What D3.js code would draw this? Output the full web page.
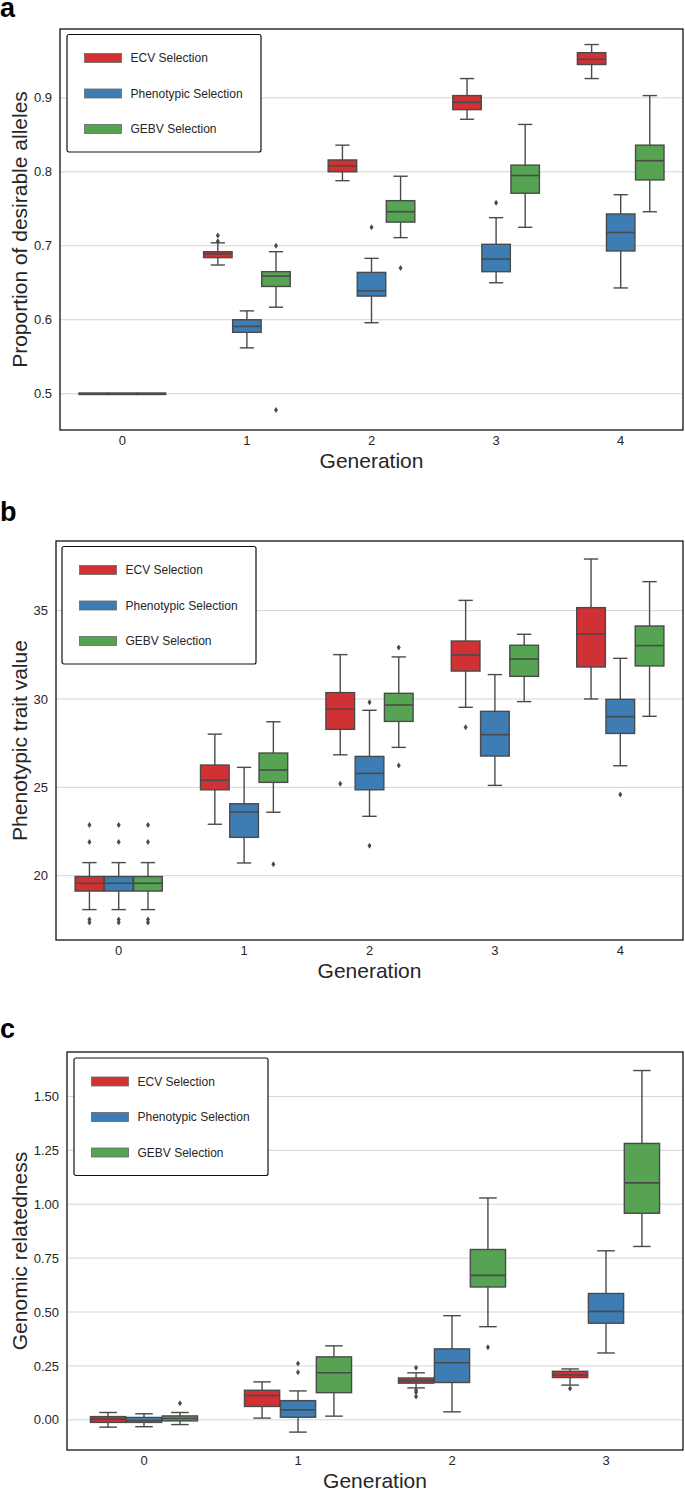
<!DOCTYPE html>
<html>
<head>
<meta charset="utf-8">
<script src="https://cdn.jsdelivr.net/npm/d3@7"></script>
<style>
  body { margin: 0; background: #fff; }
  svg { display: block; font-family: "Liberation Sans", Arial, sans-serif; }
</style>
</head>
<body>
<script>
// hue order and colours (seaborn Set1, desaturated)
const hues = ['ECV Selection', 'Phenotypic Selection', 'GEBV Selection'];
const hueColors = ['#d03134', '#3e7db3', '#55a353'];

// each box is [lower whisker, q1, median, q3, upper whisker]
// a: proportion of desirable alleles
const allelesGen = ['0', '1', '2', '3', '4'];
const allelesEcv = [[0.5, 0.499, 0.5, 0.501, 0.5], [0.674, 0.684, 0.689, 0.692, 0.704], [0.788, 0.800, 0.808, 0.816, 0.836], [0.871, 0.884, 0.894, 0.903, 0.926], [0.926, 0.945, 0.952, 0.961, 0.972]];
const allelesPheno = [[0.5, 0.499, 0.5, 0.501, 0.5], [0.562, 0.583, 0.591, 0.600, 0.612], [0.596, 0.632, 0.639, 0.664, 0.683], [0.650, 0.665, 0.682, 0.702, 0.738], [0.643, 0.693, 0.718, 0.743, 0.769]];
const allelesGebv = [[0.5, 0.499, 0.5, 0.501, 0.5], [0.617, 0.645, 0.659, 0.665, 0.692], [0.711, 0.732, 0.746, 0.761, 0.794], [0.725, 0.771, 0.795, 0.809, 0.864], [0.746, 0.789, 0.815, 0.836, 0.903]];
const allelesEcvOut = [[], [0.706, 0.714], [], [], []];
const allelesPhenoOut = [[], [], [0.725], [0.758], []];
const allelesGebvOut = [[], [0.700, 0.478], [0.670], [], []];
const allelesTicks = [0.5, 0.6, 0.7, 0.8, 0.9];

// b: phenotypic trait value
const traitGen = ['0', '1', '2', '3', '4'];
const traitEcv = [[18.08, 19.13, 19.57, 19.95, 20.74], [22.91, 24.86, 25.40, 26.26, 28.01], [26.84, 28.28, 29.42, 30.36, 32.51], [29.53, 31.58, 32.49, 33.28, 35.58], [30.00, 31.81, 33.68, 35.17, 37.92]];
const traitPheno = [[18.08, 19.13, 19.57, 19.95, 20.74], [20.72, 22.17, 23.60, 24.07, 26.13], [23.36, 24.86, 25.79, 26.75, 29.36], [25.11, 26.77, 27.98, 29.30, 31.38], [26.22, 28.05, 29.00, 29.98, 32.30]];
const traitGebv = [[18.08, 19.13, 19.57, 19.95, 20.74], [23.59, 25.28, 25.98, 26.94, 28.71], [27.26, 28.73, 29.66, 30.32, 32.38], [29.85, 31.28, 32.26, 33.04, 33.66], [29.02, 31.87, 33.02, 34.13, 36.64]];
const traitEcvOut = [[22.87, 21.90, 17.52, 17.35], [], [25.20], [28.40], []];
const traitPhenoOut = [[22.87, 21.90, 17.52, 17.35], [], [29.81, 21.70], [], [24.60]];
const traitGebvOut = [[22.87, 21.90, 17.52, 17.35], [20.64], [32.92, 26.24], [], []];
const traitTicks = [20, 25, 30, 35];

// c: genomic relatedness
const relGen = ['0', '1', '2', '3'];
const relEcv = [[-0.034, -0.012, 0.003, 0.015, 0.034], [0.008, 0.062, 0.113, 0.137, 0.176], [0.148, 0.170, 0.182, 0.194, 0.218], [0.161, 0.196, 0.208, 0.225, 0.236]];
const relPheno = [[-0.032, -0.012, -0.003, 0.011, 0.028], [-0.057, 0.012, 0.046, 0.089, 0.134], [0.037, 0.173, 0.265, 0.329, 0.483], [0.310, 0.448, 0.503, 0.586, 0.784]];
const relGebv = [[-0.022, -0.005, 0.006, 0.018, 0.034], [0.017, 0.126, 0.218, 0.292, 0.343], [0.432, 0.616, 0.670, 0.790, 1.029], [0.804, 0.958, 1.099, 1.282, 1.620]];
const relEcvOut = [[], [], [0.241, 0.137, 0.128, 0.108], [0.145]];
const relPhenoOut = [[], [0.261, 0.221], [], []];
const relGebvOut = [[0.077], [], [0.336], []];
const relTicks = [0, 0.25, 0.5, 0.75, 1.0, 1.25, 1.5];

const panels = [
    {letter: 'a', letterY: 17, top: 29, bottom: 430, left: 60, right: 683,
     domain: [0.451, 0.993], ticks: allelesTicks, fmt: d3.format('.1f'),
     gens: allelesGen, boxes: [allelesEcv, allelesPheno, allelesGebv],
     outs: [allelesEcvOut, allelesPhenoOut, allelesGebvOut],
     ylabel: 'Proportion of desirable alleles', legend: [67, 34.5]},
    {letter: 'b', letterY: 521, top: 541, bottom: 940, left: 56, right: 683,
     domain: [16.36, 38.94], ticks: traitTicks, fmt: d3.format('d'),
     gens: traitGen, boxes: [traitEcv, traitPheno, traitGebv],
     outs: [traitEcvOut, traitPhenoOut, traitGebvOut],
     ylabel: 'Phenotypic trait value', legend: [62, 546.5]},
    {letter: 'c', letterY: 1038, top: 1052, bottom: 1450, left: 67, right: 683,
     domain: [-0.140, 1.706], ticks: relTicks, fmt: d3.format('.2f'),
     gens: relGen, boxes: [relEcv, relPheno, relGebv],
     outs: [relEcvOut, relPhenoOut, relGebvOut],
     ylabel: 'Genomic relatedness', legend: [74, 1058]},
];

const lineColor = '#4a4a4a';
const textColor = '#262626';

const svg = d3.select('body')
    .append('svg')
    .attr('width', 685)
    .attr('height', 1490);

panels.forEach(p => {
    const g = svg.append('g');

    const y = d3.scaleLinear()
        .domain(p.domain)
        .range([p.bottom, p.top]);

    const x = d3.scaleBand()
        .domain(p.gens)
        .range([p.left, p.right])
        .paddingInner(0.3)
        .paddingOuter(0.15);

    const xHue = d3.scaleBand()
        .domain(hues)
        .range([0, x.bandwidth()]);

    // grid
    g.selectAll('.grid')
        .data(p.ticks).enter()
        .append('line')
            .attr('x1', p.left)
            .attr('x2', p.right)
            .attr('y1', d => y(d))
            .attr('y2', d => y(d))
            .attr('stroke', '#d5d5d5')
            .attr('stroke-width', 1);

    // y axis labels
    const yAxis = d3.axisLeft(y)
        .tickValues(p.ticks)
        .tickFormat(p.fmt)
        .tickSize(0)
        .tickPadding(8);
    const ya = g.append('g')
        .attr('transform', `translate(${p.left},0)`)
        .call(yAxis);
    ya.select('.domain').remove();
    ya.selectAll('text')
        .attr('font-size', 13)
        .attr('font-family', '"Liberation Sans", Arial, sans-serif')
        .attr('fill', textColor);

    // x axis labels
    const xAxis = d3.axisBottom(x)
        .tickSize(0)
        .tickPadding(6);
    const xa = g.append('g')
        .attr('transform', `translate(0,${p.bottom})`)
        .call(xAxis);
    xa.select('.domain').remove();
    xa.selectAll('text')
        .attr('font-size', 13)
        .attr('font-family', '"Liberation Sans", Arial, sans-serif')
        .attr('fill', textColor);

    // boxes
    hues.forEach((h, hi) => {
        const bw = xHue.bandwidth() * 0.98;
        const series = p.gens.map((gen, i) => ({gen, s: p.boxes[hi][i], out: p.outs[hi][i]}));
        const cx = d => x(d.gen) + xHue(h) + xHue.bandwidth() / 2;

        const bg = g.append('g');
        // whiskers
        bg.selectAll('.wl')
            .data(series).enter()
            .append('line')
                .attr('x1', cx).attr('x2', cx)
                .attr('y1', d => y(d.s[0])).attr('y2', d => y(d.s[1]))
                .attr('stroke', lineColor).attr('stroke-width', 1.4);
        bg.selectAll('.wh')
            .data(series).enter()
            .append('line')
                .attr('x1', cx).attr('x2', cx)
                .attr('y1', d => y(d.s[3])).attr('y2', d => y(d.s[4]))
                .attr('stroke', lineColor).attr('stroke-width', 1.4);
        // caps
        [0, 4].forEach(k => {
            bg.selectAll('.cap' + k)
                .data(series).enter()
                .append('line')
                    .attr('x1', d => cx(d) - bw / 4).attr('x2', d => cx(d) + bw / 4)
                    .attr('y1', d => y(d.s[k])).attr('y2', d => y(d.s[k]))
                    .attr('stroke', lineColor).attr('stroke-width', 1.4);
        });
        // box
        bg.selectAll('.box')
            .data(series).enter()
            .append('rect')
                .attr('x', d => cx(d) - bw / 2)
                .attr('width', bw)
                .attr('y', d => y(d.s[3]))
                .attr('height', d => Math.max(0, y(d.s[1]) - y(d.s[3])))
                .attr('fill', hueColors[hi])
                .attr('stroke', lineColor)
                .attr('stroke-width', 1.4);
        // median
        bg.selectAll('.med')
            .data(series).enter()
            .append('line')
                .attr('x1', d => cx(d) - bw / 2).attr('x2', d => cx(d) + bw / 2)
                .attr('y1', d => y(d.s[2])).attr('y2', d => y(d.s[2]))
                .attr('stroke', lineColor).attr('stroke-width', 1.6);
        // outliers (thin diamonds)
        const pts = series.flatMap(d => d.out.map(v => ({cx: cx(d), v})));
        bg.selectAll('.out')
            .data(pts).enter()
            .append('path')
                .attr('d', d => {
                    const px = d.cx, py = y(d.v);
                    return `M${px},${py - 3}L${px + 2},${py}L${px},${py + 3}L${px - 2},${py}Z`;
                })
                .attr('fill', lineColor);
    });

    // frame
    g.append('rect')
        .attr('x', p.left)
        .attr('y', p.top)
        .attr('width', p.right - p.left)
        .attr('height', p.bottom - p.top)
        .attr('fill', 'none')
        .attr('stroke', '#111')
        .attr('stroke-width', 1.3);

    // legend
    const [lx, ly] = p.legend;
    const lg = g.append('g').attr('transform', `translate(${lx},${ly})`);
    lg.append('rect')
        .attr('width', 194)
        .attr('height', 117.5)
        .attr('rx', 2)
        .attr('fill', '#fff')
        .attr('stroke', '#111')
        .attr('stroke-width', 1.2);
    const rows = lg.selectAll('.row')
        .data(hues).enter()
        .append('g')
            .attr('transform', (d, i) => `translate(0,${23.5 + i * 35.5})`);
    rows.append('rect')
        .attr('x', 17.5)
        .attr('y', -4.5)
        .attr('width', 37)
        .attr('height', 9)
        .attr('fill', (d, i) => hueColors[i])
        .attr('stroke', '#666')
        .attr('stroke-width', 0.8);
    rows.append('text')
        .attr('x', 63.5)
        .attr('dy', '0.35em')
        .attr('font-size', 12)
        .attr('fill', textColor)
        .text(d => d);

    // axis titles
    g.append('text')
        .attr('x', (p.left + p.right) / 2)
        .attr('y', p.bottom + 38)
        .attr('text-anchor', 'middle')
        .attr('font-size', 21)
        .attr('fill', textColor)
        .text('Generation');
    g.append('text')
        .attr('transform', `translate(27,${(p.top + p.bottom) / 2}) rotate(-90)`)
        .attr('text-anchor', 'middle')
        .attr('font-size', 21)
        .attr('fill', textColor)
        .text(p.ylabel);

    // panel letter
    g.append('text')
        .attr('x', 0)
        .attr('y', p.letterY)
        .attr('font-size', 27)
        .attr('font-weight', 'bold')
        .attr('fill', '#000')
        .text(p.letter);
});
</script>
</body>
</html>
